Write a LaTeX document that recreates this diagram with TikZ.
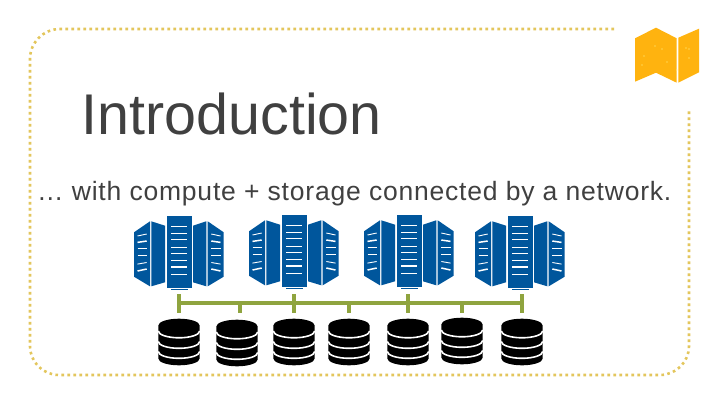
\documentclass[tikz,border=0pt]{standalone}
\usepackage{fontspec}
\setmainfont{Liberation Sans}
\definecolor{srvblue}{HTML}{00569C}
\definecolor{netgreen}{HTML}{8FA43F}
\definecolor{mapgold}{HTML}{FFB30F}
\definecolor{dotgold}{HTML}{E3C65C}
\definecolor{inktext}{HTML}{404040}
\tikzset{
  frameline/.style={draw=dotgold,line width=2.6pt,dash pattern=on 2.6pt off 3.4pt},
  titletext/.style={anchor=base west,inner sep=0pt,text=inktext,font=\fontsize{57.4}{60}\selectfont},
  bodytext/.style={anchor=base west,inner sep=0pt,text=inktext,font=\fontsize{26.5}{28}\selectfont\addfontfeature{LetterSpace=3}},
  netline/.style={draw=netgreen,line width=4.8pt},
  slat/.style={draw=white,line width=.9pt},
  slatb/.style={draw=white,line width=1.5pt},
  pics/serverrack/.style={code={
    \fill[srvblue] (-12,-36) rectangle (13,36);
    \fill[srvblue] (-45,-19.7) -- (-29,-30.7) -- (-29,34.3) -- (-45,24.7) -- cycle;
    \fill[srvblue] (-27.7,-30.7) -- (-14,-26.3) -- (-14,30.3) -- (-27.7,34.3) -- cycle;
    \fill[srvblue] (14,-26.3) -- (27.3,-30.7) -- (27.3,34.3) -- (14,30.3) -- cycle;
    \fill[srvblue] (28.7,-30.7) -- (44.7,-19.7) -- (44.7,24.7) -- (28.7,34.3) -- cycle;
    \draw[srvblue,line width=.8pt] (-8,37.2) -- (9,37.2);
    \foreach \yy/\st in {-25.7/slat,-18.3/slatb,-12.3/slatb,-5/slat,1.7/slat,8.7/slatb,15/slatb,22.3/slat}
      \draw[\st] (-8,\yy) -- (8,\yy);
    \foreach \ya/\yb/\st in {-18/-16/slat,-11/-9.6/slatb,-3.7/-3.7/slatb,3/3/slat,10.5/12.1/slat,17/19/slatb}{
      \draw[\st] (-41.5,\yb) -- (-32.3,\ya);
      \draw[\st] (32.3,\ya) -- (41.5,\yb);
    }
  }},
  pics/diskstack/.style={code={
    \fill[black] (-20.7,-16.5) arc[start angle=180,end angle=360,x radius=20.7,y radius=6.8]
      -- (20.7,16.5) arc[start angle=0,end angle=180,x radius=20.7,y radius=6.8] -- cycle;
    \foreach \yy in {-11,-.5,9.5}
      \draw[white,line width=1.6pt] (-20.7,\yy) arc[start angle=180,end angle=0,x radius=20.7,y radius=6.8];
  }},
  mapfold/.style={fill=mapgold}
}
\begin{document}
\begin{tikzpicture}[x=1pt,y=-1pt]
\useasboundingbox (0,0) rectangle (720,405);
\fill[white] (0,0) rectangle (720,405);
% dotted frame
\coordinate (frameS) at (614,29);
\coordinate (frameE) at (689,109);
\draw[frameline] (frameS) -- (60,29) arc[start angle=270,end angle=180,radius=30]
  -- (30,346) arc[start angle=180,end angle=90,radius=29]
  -- (660,375) arc[start angle=90,end angle=0,radius=29] -- (frameE);
% map icon
\fill[mapfold] (635,38.3) -- (656,27.7) -- (676.7,38.3) -- (676.7,82.7) -- (656,72.7) -- (635,81.7) -- cycle;
\fill[mapfold] (678.3,37.7) -- (699,28.7) -- (699,72.3) -- (678.3,82.7) -- cycle;
\foreach \px/\py in {655/46,662/49,644/56,667/62,642/65,677/70,686/48,689/49,689/58}
  \fill[yellow!40!white] (\px,\py) circle (.6);
% text
\node[titletext] (title) at (81.5,134) {Introduction};
\node[bodytext] (body) at (37,200) {… with compute + storage connected by a network.};
% servers
\pic (srvA) at (179,252) {serverrack};
\pic (srvB) at (294,251) {serverrack};
\pic (srvC) at (409,251) {serverrack};
\pic (srvD) at (520,252) {serverrack};
% disks
\pic at (179,342) {diskstack};
\pic at (237,343) {diskstack};
\pic at (294,342) {diskstack};
\pic at (349,342) {diskstack};
\pic at (408,342) {diskstack};
\pic at (462,341) {diskstack};
\pic at (522,342) {diskstack};
% network
\coordinate (busL) at (179,303);
\coordinate (busR) at (522,303);
\draw[netline] (busL) -- (busR);
\foreach \xx in {179,294,408,522}
  \draw[netline] (\xx,294) -- (\xx,313);
\foreach \xx in {240,349,462}
  \draw[netline] (\xx,303) -- (\xx,313);
\end{tikzpicture}
\end{document}
